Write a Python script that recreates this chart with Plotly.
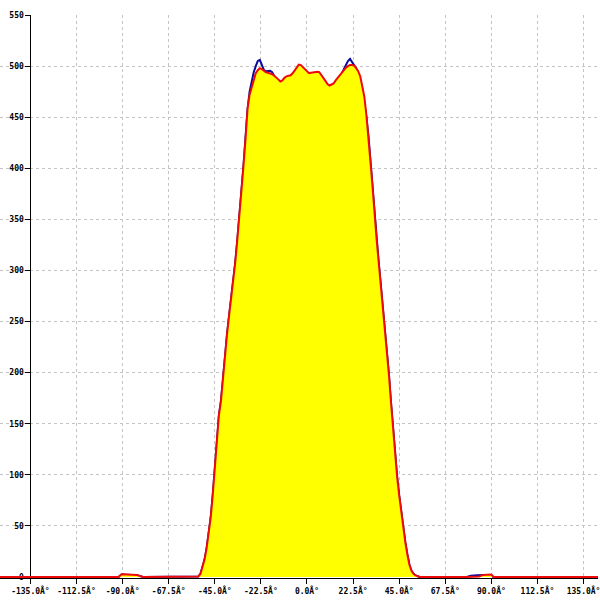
import plotly.graph_objects as go

# ---- data ----
angles = [-150, -92, -90.5, -88, -85, -83, -80, -54, -53, -52, -51, -50, -49, -48, -47, -46, -45,
          -44, -43, -42, -41, -40, -39, -38, -37, -36, -35, -34, -33, -32, -31, -30, -29, -28,
          -27, -26, -25, -24, -23, -22, -21, -20, -19, -18, -17, -16, -15, -14, -13, -12, -11,
          -10, -9, -8, -7, -6, -5, -4, -3, -2, -1, 0, 1, 2, 3, 4, 5, 6, 7, 8, 9, 10, 11, 12,
          13, 14, 15, 16, 17, 18, 19, 20, 21, 22, 23, 24, 25, 26, 27, 28, 29, 30, 31, 32, 33,
          34, 35, 36, 37, 38, 39, 40, 41, 42, 43, 44, 45, 46, 47, 48, 49, 50, 51, 52, 53, 54,
          55, 78, 80, 83, 84, 86, 89, 90, 91, 150]

red_vals = [0, 0, 2.6, 2.6, 2.4, 2.0, 0, 0, 0.5, 3, 9, 17, 28, 44, 58, 80, 108,
            137, 158, 172, 195, 222, 238, 256, 272, 290, 308, 330, 352, 376, 402, 428, 458, 472,
            479, 488, 493, 496, 498, 497, 495, 494, 493.5, 493, 492, 490.5, 489, 487, 485, 486, 488.5,
            490, 490.5, 491, 493, 496, 499, 501.5, 501, 499, 496, 494, 493, 493.5, 494, 494.5, 494.5, 494, 491.5, 488.5, 485.5, 482.5, 481, 482,
            483, 486, 488.5, 491.5, 494.5, 497, 498.5, 500, 501, 501, 500.5, 498, 495, 490, 481, 470, 452, 432, 406, 382, 353,
            330, 308, 287, 266, 246, 222, 198, 171, 145, 122, 98, 80, 63, 48, 34, 22, 12, 6, 3, 1.5, 0.5,
            0, 0, 0, 0, 0.5, 2.0, 2.8, 2.5, 0, 0]

blue_vals = [0, 0, 2.4, 2.4, 2.2, 1.8, 0, 0, 0.5, 3, 9, 17, 28, 44, 58, 80, 108,
             137, 158, 172, 195, 222, 238, 256, 272, 290, 308, 330, 352, 376, 402, 430, 458, 475,
             485, 494, 500, 505, 506, 500, 496, 495, 495.5, 495.5, 494, 491, 487, 482, 478, 476.5, 476.5,
             477, 477.5, 479, 481, 483.5, 487, 491, 494.5, 495, 494.5, 493.5, 492, 490.5, 489, 487, 484.5, 482, 479.5, 478, 478, 479, 480, 481,
             482, 483.5, 486, 489, 492.5, 497, 501, 505, 507, 503.5, 501, 498, 493, 487, 478, 466, 450, 432, 406, 382, 353,
             330, 308, 287, 266, 246, 222, 198, 171, 145, 122, 98, 80, 63, 48, 34, 22, 12, 6, 3, 1.5, 0.5,
             0, 0, 1.2, 1.8, 2.0, 2.0, 2.0, 1.8, 0, 0]

x_ticks = [-135, -112.5, -90, -67.5, -45, -22.5, 0, 22.5, 45, 67.5, 90, 112.5, 135]
x_tick_labels = [f"{v:.1f}Â°" for v in x_ticks]
y_ticks = [0, 50, 100, 150, 200, 250, 300, 350, 400, 450, 500, 550]

# ---- figure ----
W, H = 600, 600
axis_px = 30.5
px_per_deg = 2.0556
x_lo = -135 - axis_px / px_per_deg
x_hi = 135 + (W - 585.5) / px_per_deg

fig = go.Figure()
fig.add_trace(go.Scatter(x=angles, y=blue_vals, mode="lines",
                         line=dict(color="#0a0a9c", width=2), hoverinfo="skip"))
fig.add_trace(go.Scatter(x=angles, y=red_vals, mode="lines", fill="tozeroy",
                         fillcolor="#ffff00", line=dict(color="#ee0a0a", width=2),
                         hoverinfo="skip"))

tickfont = dict(family="DejaVu Sans Mono", size=8, color="black", weight="bold")

fig.update_layout(
    width=W, height=H, showlegend=False,
    paper_bgcolor="white", plot_bgcolor="white",
    margin=dict(l=0, r=0, t=15, b=22),
    xaxis=dict(range=[x_lo, x_hi], tickvals=x_ticks, ticktext=x_tick_labels,
               showgrid=True, gridcolor="#c4c4c4", griddash="3px,3px", gridwidth=1,
               showline=True, linecolor="black", linewidth=1,
               ticks="outside", ticklen=5, tickcolor="black",
               ticklabeloverflow="allow",
               tickfont=tickfont, zeroline=False, layer="below traces"),
    yaxis=dict(range=[-1.0, 550], tickvals=y_ticks,
               anchor="free", position=axis_px / W,
               showgrid=True, gridcolor="#c4c4c4", griddash="3px,3px", gridwidth=1,
               showline=True, linecolor="black", linewidth=1,
               ticks="outside", ticklen=5, tickcolor="black",
               ticklabeloverflow="allow",
               tickfont=tickfont, zeroline=False, layer="below traces"),
)

fig.add_shape(type="rect", xref="paper", yref="paper", x0=0, x1=axis_px / W - 0.002,
              y0=0, y1=1, fillcolor="white", line=dict(width=0), layer="between")

fig.write_html("out.html", config={"displayModeBar": False},
               post_script="document.body.style.margin='0px';document.body.style.overflow='hidden';")
